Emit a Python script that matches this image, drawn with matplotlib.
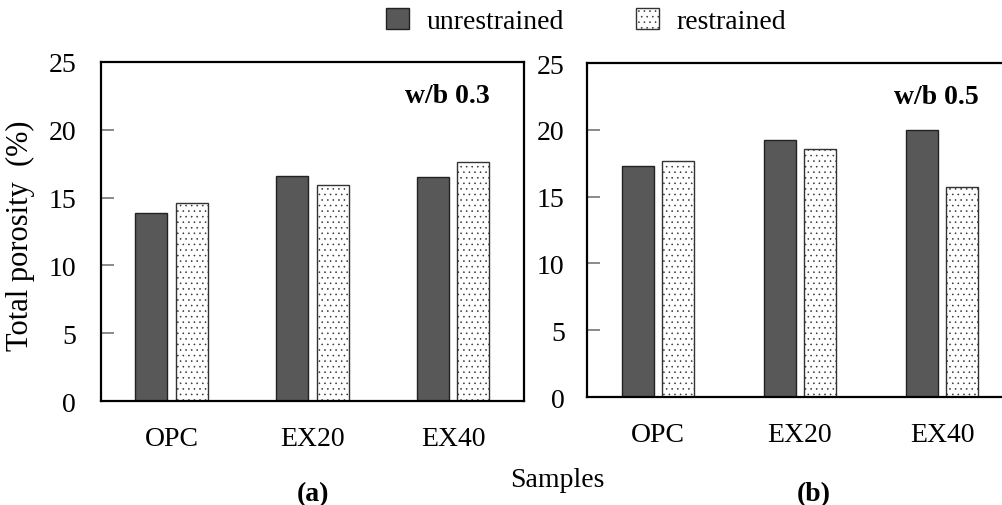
import numpy as np
import matplotlib
matplotlib.use('Agg')
from matplotlib import pyplot as plt

plt.rcParams['font.family'] = ['Liberation Serif', 'DejaVu Serif']
plt.rcParams['font.size'] = 20
plt.rcParams['hatch.linewidth'] = 0.4

samples = ['OPC', 'EX20', 'EX40']
wb03_unrestrained = [13.9, 16.6, 16.55]
wb03_restrained = [14.6, 15.9, 17.6]
wb05_unrestrained = [17.3, 19.2, 20.0]
wb05_restrained = [17.7, 18.6, 15.75]
yticks = [0, 5, 10, 15, 20, 25]


def draw_panel(ax, unr, res, title, pad):
    x = np.arange(len(samples))
    w = 0.227
    off = 0.142
    ax.bar(x - off, unr, w, color='#585858', edgecolor='#222222', linewidth=1.0,
           label='unrestrained')
    ax.bar(x + off, res, w, color='white', edgecolor='#333333', linewidth=1.0,
           hatch='...', label='restrained')
    ax.set_xlim(-0.5, 2.5)
    ax.set_ylim(0, 25)
    ax.set_yticks(yticks)
    ax.set_xticks(x)
    ax.set_xticklabels(samples)
    ax.tick_params(axis='y', direction='in', length=9, width=1.2, color='#777777', pad=pad)
    ax.tick_params(axis='x', length=0, pad=18)
    for s in ax.spines.values():
        s.set_linewidth(1.6)
    ax.text(0.92, 0.90, title, transform=ax.transAxes, ha='right', va='center',
            fontweight='bold')


fig = plt.figure(figsize=(10.03, 5.06), dpi=100)
ax1 = fig.add_axes([0.1007, 0.2055, 0.4217, 0.67])
ax2 = fig.add_axes([0.5852, 0.2134, 0.4248, 0.6601])

draw_panel(ax1, wb03_unrestrained, wb03_restrained, 'w/b 0.3', 18)
draw_panel(ax2, wb05_unrestrained, wb05_restrained, 'w/b 0.5', 16)

ax1.set_ylabel('Total porosity  (%)', fontsize=22)
ax1.yaxis.set_label_coords(-0.155, 0.49)

fig.text(0.556, 0.050, 'Samples', ha='center', va='center')
fig.text(0.312, 0.022, '(a)', ha='center', va='center', fontweight='bold')
fig.text(0.811, 0.022, '(b)', ha='center', va='center', fontweight='bold')

handles, labels = ax1.get_legend_handles_labels()
fig.legend(handles, labels, loc='center', bbox_to_anchor=(0.584, 0.956), ncol=2,
           frameon=False, handlelength=0.85, handleheight=0.8, handletextpad=0.6,
           columnspacing=2.6)

fig.savefig('out.png', dpi=100)
